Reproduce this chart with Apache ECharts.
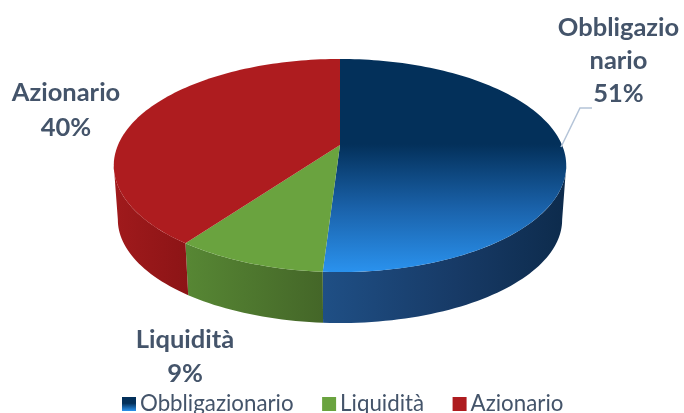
<!DOCTYPE html>
<html>
<head>
<meta charset="utf-8">
<script src="https://cdn.jsdelivr.net/npm/echarts@6/dist/echarts.min.js"></script>
<style>html,body{margin:0;padding:0;background:#fff}#c{width:684px;height:413px}</style>
</head>
<body>
<div id="c"></div>
<script>
const categories = ['Obbligazionario', 'Liquidità', 'Azionario'];
const values = [51, 9, 40];
const labelLines = [['Obbligazio', 'nario'], ['Liquidità'], ['Azionario']];

const total = values.reduce((a, b) => a + b, 0);
const G = echarts.graphic;
const TEXT = '#44546a';
const FONT = 'Lato, "Open Sans", sans-serif';
const PERSP = -0.1925;
const TOPF = { cx: 340, cy: 145, R: 222, S: 102.6 };
const BASE = { cx: 340, cy: 199.8, R: 218, S: 99.5 };
const FRONT = [101, 259];

const topFill = [
  new G.LinearGradient(0, 0, 0, 1, [
    { offset: 0, color: '#03305a' }, { offset: 0.4, color: '#03305a' },
    { offset: 0.7, color: '#1a62aa' }, { offset: 1, color: '#2a92ee' }]),
  '#6aa33f',
  '#ae1c1f'
];
const wallFill = [
  new G.LinearGradient(0, 0, 1, 0, [
    { offset: 0, color: '#1f4f85' }, { offset: 0.55, color: '#173a66' }, { offset: 1, color: '#0d2b4c' }]),
  new G.LinearGradient(0, 0, 1, 0, [
    { offset: 0, color: '#578734' }, { offset: 1, color: '#446628' }]),
  new G.LinearGradient(0, 0, 1, 0, [
    { offset: 0, color: '#a01a1c' }, { offset: 1, color: '#8c1416' }])
];
const legendFill = new G.LinearGradient(0, 0, 0, 1, [
  { offset: 0, color: '#03305a' }, { offset: 0.45, color: '#03305a' }, { offset: 1, color: '#2a92ee' }]);

const labelPlace = [
  { x: 618.5, y: 11, lh: 33 },
  { x: 185, y: 323, lh: 34 },
  { x: 66, y: 75, lh: 35 }
];

function rim(f, deg) {
  const t = deg * Math.PI / 180, u = Math.sin(t), v = -Math.cos(t);
  const w = 1 + PERSP * v;
  return [f.cx + f.R * u / w, f.cy + f.S * v / w];
}
function arc(f, a, b) {
  const pts = [], n = Math.max(2, Math.ceil(Math.abs(b - a) / 1.5));
  for (let i = 0; i <= n; i++) pts.push(rim(f, a + (b - a) * i / n));
  return pts;
}
function renderSlice(idx) {
  return function (params, api) {
    const start = api.value(0) / total * 360;
    const end = start + api.value(1) / total * 360;
    const children = [];
    const wa = Math.max(start, FRONT[0]), wb = Math.min(end, FRONT[1]);
    if (wb > wa) {
      children.push({
        type: 'polygon', z2: 1, silent: true,
        shape: { points: arc(TOPF, wa, wb).concat(arc(BASE, wa, wb).reverse()) },
        style: { fill: wallFill[idx] }
      });
    }
    children.push({
      type: 'polygon', z2: 5, silent: true,
      shape: { points: [[TOPF.cx, TOPF.cy]].concat(arc(TOPF, start, end)) },
      style: { fill: topFill[idx] }
    });
    const text = labelLines[idx].concat(api.value(1) + '%').join('\n');
    children.push({
      type: 'text', z2: 20, silent: true,
      x: labelPlace[idx].x, y: labelPlace[idx].y,
      style: { text, fill: TEXT, font: 'bold 25.5px ' + FONT, align: 'center', verticalAlign: 'top', lineHeight: labelPlace[idx].lh }
    });
    if (idx === 0) {
      children.push({
        type: 'polyline', z2: 10, silent: true,
        shape: { points: [[561, 147], [580, 108], [592, 108]] },
        style: { stroke: '#b4c4d8', lineWidth: 1.5, fill: null }
      });
    }
    return { type: 'group', children };
  };
}

let cum = 0;
const series = categories.map((name, i) => {
  const s = {
    type: 'custom', name, coordinateSystem: 'none', silent: true, animation: false,
    itemStyle: { color: i === 0 ? legendFill : topFill[i] },
    renderItem: renderSlice(i),
    data: [[cum, values[i]]]
  };
  cum += values[i];
  return s;
});

const chart = echarts.init(document.getElementById('c'), null, { renderer: 'canvas' });
chart.setOption({
  backgroundColor: '#fff',
  animation: false,
  legend: {
    data: categories, left: 122, top: 393, icon: 'rect', itemWidth: 14, itemHeight: 14, itemGap: 28.5,
    padding: 0, selectedMode: false,
    textStyle: { color: TEXT, fontFamily: FONT, fontSize: 22.3, padding: [0, 0, 0, -1] }
  },
  series
});
</script>
</body>
</html>
